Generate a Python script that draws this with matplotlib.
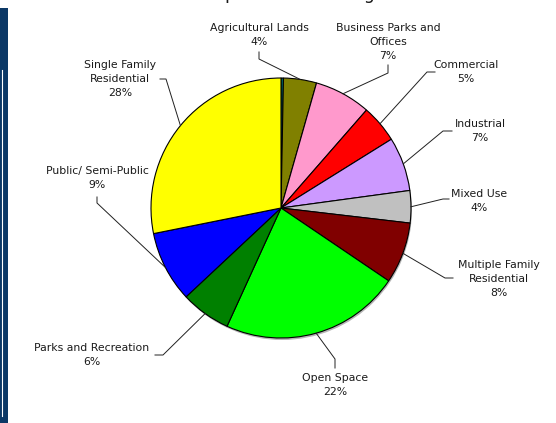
import numpy as np
import matplotlib.pyplot as plt
from matplotlib.patches import Rectangle, Circle

W, H = 556, 423

# Slices, clockwise from 12 o'clock (first one is the tiny unlabeled sliver)
categories = ["", "Agricultural Lands", "Business Parks and\nOffices", "Commercial",
              "Industrial", "Mixed Use", "Multiple Family\nResidential", "Open Space",
              "Parks and Recreation", "Public/ Semi-Public", "Single Family\nResidential"]
shares = [0.3, 4.1, 7.0, 4.7, 6.7, 4.0, 7.6, 22.3, 6.2, 8.8, 28.1]
colors = ["#008080", "#808000", "#FF99CC", "#FF0000", "#CC99FF", "#C0C0C0",
          "#800000", "#00FF00", "#008000", "#0000FF", "#FFFF00"]

# Label layout in image pixels (y down): text centre, leader start, leader elbow
label_layout = {
    "Agricultural Lands": ((259, 35), (259, 52), (259, 59)),
    "Business Parks and\nOffices": ((388, 42), (388, 65), (388, 73)),
    "Commercial": ((466, 72), (435, 72), (427, 72)),
    "Industrial": ((480, 131), (452, 131), (443, 131)),
    "Mixed Use": ((479, 201), (449, 199), (443, 199)),
    "Multiple Family\nResidential": ((499, 279), (453, 278), (445, 278)),
    "Open Space": ((335, 385), (335, 368), (335, 359)),
    "Parks and Recreation": ((92, 355), (155, 355), (163, 355)),
    "Public/ Semi-Public": ((97, 178), (97, 197), (97, 203)),
    "Single Family\nResidential": ((120, 79), (160, 79), (166, 79)),
}

cx, cy, r = 281, 208, 130


def px(x, y):
    return x, H - y


fig = plt.figure(figsize=(W / 100, H / 100), dpi=100)
ax = fig.add_axes([0, 0, 1, 1])

# soft shadow under the pie
ax.add_patch(Circle(px(cx + 1, cy + 2), r, color="#b5b5b5", zorder=0, lw=0))

wedges, _ = ax.pie(shares, colors=colors, startangle=90, counterclock=False,
                   center=px(cx, cy), radius=r,
                   wedgeprops=dict(edgecolor="black", linewidth=0.8))

total = sum(shares)
for w, name, val in zip(wedges, categories, shares):
    if not name:
        continue
    (tx, ty), start, elbow = label_layout[name]
    mid = np.deg2rad((w.theta1 + w.theta2) / 2)
    ex, ey = cx + r * np.cos(mid), cy - r * np.sin(mid)
    xs = [start[0], elbow[0], ex]
    ys = [H - start[1], H - elbow[1], H - ey]
    ax.plot(xs, ys, color="#202020", lw=0.7, zorder=5)
    pct = round(val / total * 100)
    ax.text(*px(tx, ty), f"{name}\n{pct}%", ha="center", va="center",
            fontsize=7.8, color="#1a1a1a", linespacing=1.45, zorder=6)

# title, mostly cropped off the top of the picture
ax.text(*px(279, -1), "Development Percentages", ha="center", va="baseline",
        fontsize=12.5, color="#1a1a1a", clip_on=False)

ax.set_xlim(0, W)
ax.set_ylim(0, H)
ax.set_aspect("equal")
ax.axis("off")

# dark side bar on the left edge
ax.add_patch(Rectangle(px(0, 423), 8, 415, color="#0b3866", lw=0, clip_on=False))
ax.plot([1.5, 1.5], [H - 70, H - 416], color="white", lw=0.8)

fig.savefig("out.png", dpi=100, facecolor="white")
